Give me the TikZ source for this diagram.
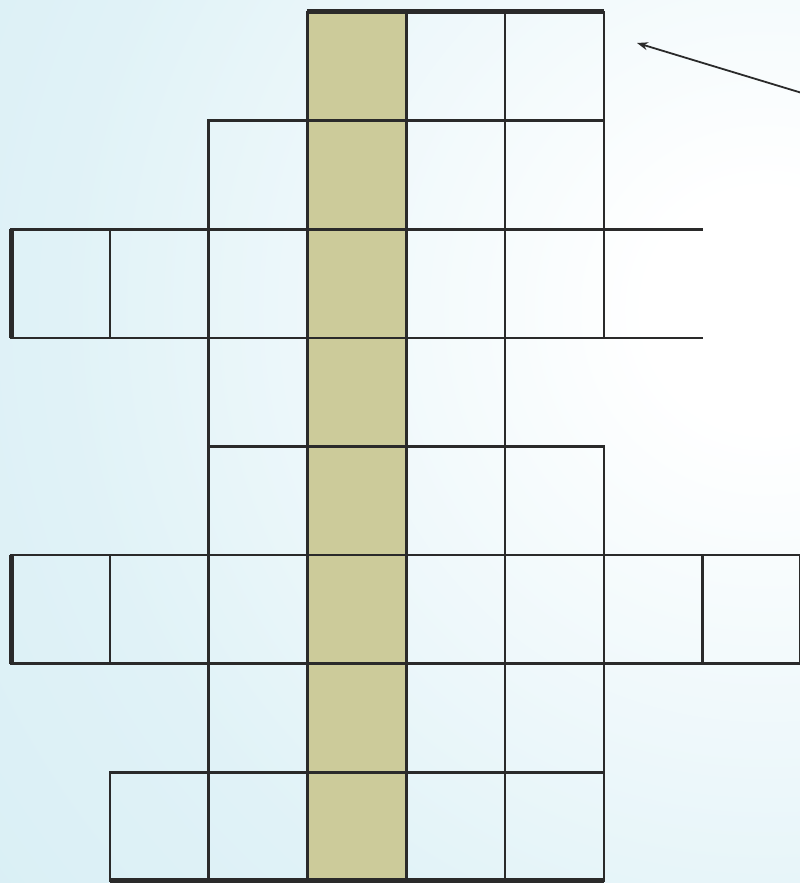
\documentclass[tikz,border=0pt]{standalone}
\usetikzlibrary{arrows.meta}
\definecolor{bgout}{HTML}{C2E5EE}
\definecolor{bgmid}{HTML}{E0F2F7}
\definecolor{shadecell}{HTML}{CCCB9A}
\definecolor{ink}{HTML}{2A2A2A}
\pgfdeclareradialshading{bgshade}{\pgfpoint{0bp}{0bp}}{color(0bp)=(white); color(3bp)=(white); color(18bp)=(bgmid); color(50bp)=(bgout)}
\begin{document}
\begin{tikzpicture}[x=1pt,y=-1pt,
  cell/.style={draw=ink,line width=2.6pt,minimum width=98.8pt,minimum height=108.6pt,inner sep=0pt,outer sep=0pt,anchor=north west},
  tan/.style={cell,fill=shadecell},
  lastcell/.style={cell,minimum width=97.4pt},
  heavy/.style={draw=ink,line width=5pt},
  plain/.style={draw=ink,line width=2.6pt}]
\useasboundingbox (0,0) rectangle (800,883);
\begin{scope}
\clip (0,0) rectangle (800,883);
\shade[shading=bgshade] (765,310) circle (980);
\end{scope}
\def\cw{98.8}\def\ch{108.6}
\newcommand{\cellat}[3]{\node[#1] (r#2c#3) at ({11+#3*\cw},{12+#2*\ch}) {};}
% row 0
\cellat{tan}{0}{3}\cellat{cell}{0}{4}\cellat{cell}{0}{5}
% row 1
\cellat{cell}{1}{2}\cellat{tan}{1}{3}\cellat{cell}{1}{4}\cellat{cell}{1}{5}
% row 2
\cellat{cell}{2}{0}\cellat{cell}{2}{1}\cellat{cell}{2}{2}\cellat{tan}{2}{3}\cellat{cell}{2}{4}\cellat{cell}{2}{5}
% row 3
\cellat{cell}{3}{2}\cellat{tan}{3}{3}\cellat{cell}{3}{4}
% row 4
\cellat{cell}{4}{2}\cellat{tan}{4}{3}\cellat{cell}{4}{4}\cellat{cell}{4}{5}
% row 5
\cellat{cell}{5}{0}\cellat{cell}{5}{1}\cellat{cell}{5}{2}\cellat{tan}{5}{3}\cellat{cell}{5}{4}\cellat{cell}{5}{5}\cellat{cell}{5}{6}\cellat{lastcell}{5}{7}
% row 6
\cellat{cell}{6}{2}\cellat{tan}{6}{3}\cellat{cell}{6}{4}\cellat{cell}{6}{5}
% row 7
\cellat{cell}{7}{1}\cellat{cell}{7}{2}\cellat{tan}{7}{3}\cellat{cell}{7}{4}\cellat{cell}{7}{5}
% open cell in row 2
\coordinate (o2a) at (703,{12+2*\ch});
\coordinate (o2b) at (703,{12+3*\ch});
\draw[plain] (r2c5.north east) -- (o2a);
\draw[plain] (r2c5.south east) -- (o2b);
% heavy borders
\draw[heavy] (r0c3.north west) -- (r0c5.north east);
\draw[heavy] (r2c0.north west) -- (r2c0.south west);
\draw[heavy] (r5c0.north west) -- (r5c0.south west);
\draw[heavy] (r7c1.south west) -- (r7c5.south east);
% arrow
\coordinate (ab) at (802,93);
\coordinate (ae) at (637,43);
\draw[draw=ink,line width=1.8pt,-{Stealth[length=11pt,width=8pt]}] (ab) -- (ae);
\end{tikzpicture}
\end{document}
